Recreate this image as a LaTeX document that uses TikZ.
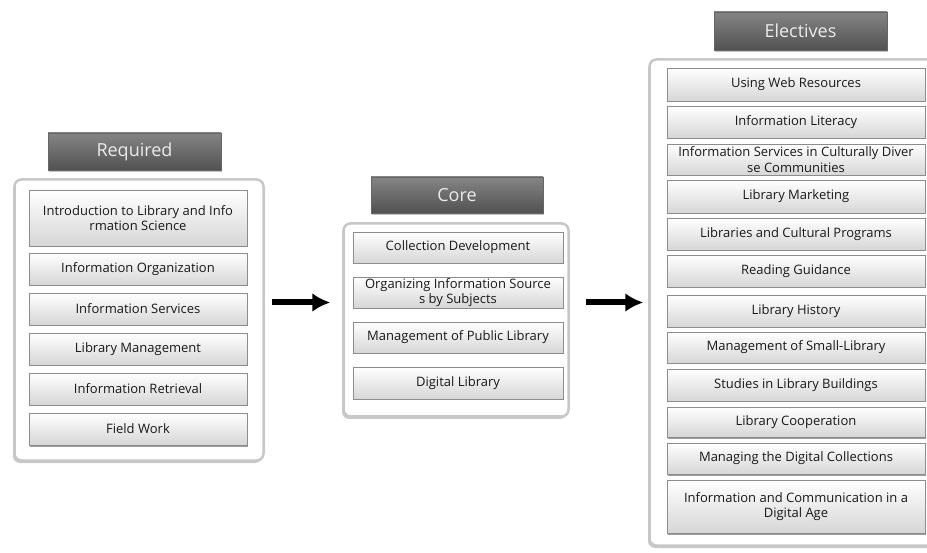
\documentclass[tikz,border=0pt]{standalone}
\usepackage{fontspec}
\setmainfont{Open Sans}
\usetikzlibrary{calc}
\usetikzlibrary{arrows.meta}
\usetikzlibrary{shadows}

\begin{document}
\begin{tikzpicture}[allow upside down,x=1pt,y=-1pt,
    panel/.style={draw=black!22,line width=2.5pt,fill=white,rounded corners=7pt,
      drop shadow={shadow xshift=-1.5pt,shadow yshift=-2.5pt,fill=black!35,opacity=.6}},
    hdr/.style={draw=black!60,line width=.6pt,top color=black!48,bottom color=black!68,
      text=white!92!black,font=\fontsize{18}{20}\selectfont,inner sep=0pt,
      drop shadow={shadow xshift=1pt,shadow yshift=-2pt,fill=black!40,opacity=.6}},
    course/.style={draw=black!45,line width=.6pt,top color=white,bottom color=black!16,
      text=black!90,align=center,inner sep=0pt,font=\fontsize{13}{15.5}\selectfont,
      drop shadow={shadow xshift=.8pt,shadow yshift=-1.5pt,fill=black!55,opacity=.7}},
    arr/.style={-{Latex[length=18pt,width=19pt]},line width=6pt,black}]
  \useasboundingbox (0,0) rectangle (927,553);

  \node[panel,minimum width=249pt,minimum height=281pt] (Req) at (139,320) {};
  \node[panel,minimum width=225pt,minimum height=193pt] (Cor) at (456,320) {};
  \node[panel,minimum width=285pt,minimum height=486pt] (Ele) at (792,302.5) {};

  \node[hdr,minimum width=173pt,minimum height=37pt] (Req H) at (134.5,151.5) {Required};
  \node[hdr,minimum width=172pt,minimum height=36pt] (Cor H) at (457,195) {Core};
  \node[hdr,minimum width=173pt,minimum height=38pt] (Ele H) at (800.5,31) {Electives};

  \foreach \y/\h/\t [count=\i] in {218/56/{Introduction to Library and Info\\rmation Science},
      269/32/Information Organization,309/32/Information Services,
      349/32/Library Management,389/32/Information Retrieval,429/32/Field Work}
    \node[course,minimum width=218pt,minimum height=\h pt] (R \i) at (138,\y) {\t};

  \foreach \y/\h/\t [count=\i] in {247.5/31/Collection Development,
      292.5/31/{Organizing Information Source\\s by Subjects},
      337.5/31/Management of Public Library,383/32/Digital Library}
    \node[course,minimum width=210pt,minimum height=\h pt] (C \i) at (458,\y) {\t};

  \foreach \y/\h/\t [count=\i] in {84.5/33/Using Web Resources,122/32/Information Literacy,
      159.5/31/{Information Services in Culturally Diver\\se Communities},
      196.5/33/Library Marketing,234/32/Libraries and Cultural Programs,
      271/32/Reading Guidance,311/32/Library History,347.5/31/Management of Small-Library,
      385/32/Studies in Library Buildings,422/30/Library Cooperation,
      458.5/31/Managing the Digital Collections,
      506.5/53/{Information and Communication in a\\Digital Age}}
    \node[course,minimum width=258pt,minimum height=\h pt] (E \i) at (796,\y) {\t};

  \draw[arr,shorten <=7pt,shorten >=12pt] ([yshift=17.5pt]Req.east) -- ([yshift=17.5pt]Cor.west);
  \draw[arr,shorten <=16pt,shorten >=5pt] ([yshift=17.5pt]Cor.east) -- ([yshift=17.5pt]Cor.east -| Ele.west);
\end{tikzpicture}
\end{document}
